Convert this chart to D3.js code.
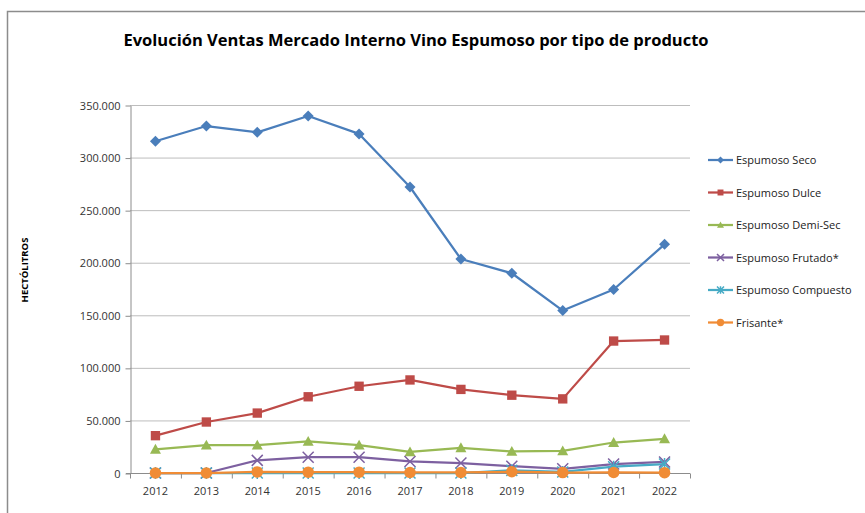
<!DOCTYPE html>
<html>
<head>
<meta charset="utf-8">
<script src="https://cdn.jsdelivr.net/npm/d3@7"></script>
<style>
	body { margin: 0; background: #fff; font-family: "Open Sans", "Liberation Sans", sans-serif; }
</style>
</head>
<body>
<div id="chart"></div>
<script type="text/javascript">
	// data (hectolitros)
	var years = ["2012","2013","2014","2015","2016","2017","2018","2019","2020","2021","2022"];
	var seco      = [315500, 330000, 324000, 339500, 322500, 272000, 203500, 190000, 154500, 174500, 217500];
	var dulce     = [35500, 48500, 57000, 72500, 82500, 88500, 79500, 74000, 70500, 125500, 126500];
	var demiSec   = [22500, 26500, 26500, 30000, 26500, 20000, 24000, 20500, 21000, 29000, 32500];
	var frutado   = [0, 0, 12000, 15000, 15000, 11000, 9500, 6500, 4000, 8500, 10500];
	var compuesto = [0, 0, 0, 0, 0, 0, 0, 2500, 1000, 6000, 8500];
	var frisante  = [0, 0, 1000, 800, 800, 500, 500, 1200, 400, 500, 300];
	var yTicks = [0, 50000, 100000, 150000, 200000, 250000, 300000, 350000];

	var series = [
		{name: "Espumoso Seco", values: seco, color: "#4a7ebb", marker: "diamond"},
		{name: "Espumoso Dulce", values: dulce, color: "#be4b48", marker: "square"},
		{name: "Espumoso Demi-Sec", values: demiSec, color: "#98b954", marker: "triangle"},
		{name: "Espumoso Frutado*", values: frutado, color: "#7d60a0", marker: "x"},
		{name: "Espumoso Compuesto", values: compuesto, color: "#46aac5", marker: "star"},
		{name: "Frisante*", values: frisante, color: "#f08c35", marker: "circle"}
	];

	var w = 865, h = 513;
	var plotL = 130, plotR = 690, plotT = 105, plotB = 473;

	var svg = d3.select("#chart").append("svg")
		.attr("width", w)
		.attr("height", h);

	// outer frame
	svg.append("rect")
		.attr("x", 7.5).attr("y", 11.5)
		.attr("width", 880).attr("height", 520)
		.attr("fill", "none")
		.attr("stroke", "#8c8c8c")
		.attr("stroke-width", 1.5);

	svg.append("text")
		.attr("x", 416).attr("y", 46)
		.attr("text-anchor", "middle")
		.attr("font-family", "'Open Sans', sans-serif")
		.attr("font-weight", "bold")
		.attr("font-size", 16.5)
		.attr("fill", "#000")
		.text("Evolución Ventas Mercado Interno Vino Espumoso por tipo de producto");

	var x = d3.scaleBand().domain(years).range([plotL, plotR]);
	var y = d3.scaleLinear().domain([0, 350000]).range([plotB, plotT]);
	var fmt = function(d) { return d3.format(",")(d).replace(/,/g, "."); };

	// gridlines
	svg.append("g").selectAll("line")
		.data(yTicks.slice(1))
		.enter().append("line")
		.attr("x1", plotL).attr("x2", plotR)
		.attr("y1", function(d) { return y(d) + 0.5; })
		.attr("y2", function(d) { return y(d) + 0.5; })
		.attr("stroke", "#bdbdbd");

	var yAxis = svg.append("g")
		.attr("transform", "translate(" + (plotL + 0.5) + ",0.5)")
		.call(d3.axisLeft(y).tickValues(yTicks).tickSize(5).tickSizeOuter(0).tickFormat(fmt));
	yAxis.select(".domain").attr("stroke", "#8c8c8c");
	yAxis.selectAll(".tick line").attr("stroke", "#8c8c8c");
	yAxis.selectAll("text")
		.attr("x", -10)
		.attr("font-family", "'Open Sans', sans-serif")
		.attr("font-size", 11)
		.attr("fill", "#333");

	var xAxis = svg.append("g")
		.attr("transform", "translate(0," + (plotB + 0.5) + ")");
	xAxis.append("line")
		.attr("x1", plotL - 4).attr("x2", plotR)
		.attr("stroke", "#8c8c8c");
	xAxis.selectAll(".xt")
		.data(years.concat(["end"]))
		.enter().append("line")
		.attr("x1", function(d, i) { return plotL + i * x.bandwidth() + 0.5; })
		.attr("x2", function(d, i) { return plotL + i * x.bandwidth() + 0.5; })
		.attr("y1", 0).attr("y2", 5)
		.attr("stroke", "#8c8c8c");
	xAxis.selectAll("text")
		.data(years)
		.enter().append("text")
		.attr("x", function(d) { return x(d) + x.bandwidth() / 2; })
		.attr("y", 21)
		.attr("text-anchor", "middle")
		.attr("font-family", "'Open Sans', sans-serif")
		.attr("font-size", 11)
		.attr("fill", "#333")
		.text(function(d) { return d; });

	svg.append("text")
		.attr("transform", "translate(28,270) rotate(-90)")
		.attr("text-anchor", "middle")
		.attr("font-family", "'Open Sans', sans-serif")
		.attr("font-weight", "bold")
		.attr("font-size", 9.5)
		.attr("fill", "#000")
		.text("HECTÓLITROS");

	function drawMarker(g, type, color, size) {
		var s = size;
		if (type == "diamond") {
			g.append("path").attr("d", "M0," + (-s) + "L" + s + ",0L0," + s + "L" + (-s) + ",0Z").attr("fill", color);
		} else if (type == "square") {
			g.append("rect").attr("x", -s * 0.85).attr("y", -s * 0.85).attr("width", s * 1.7).attr("height", s * 1.7).attr("fill", color);
		} else if (type == "triangle") {
			g.append("path").attr("d", "M0," + (-s) + "L" + s + "," + (s * 0.8) + "L" + (-s) + "," + (s * 0.8) + "Z").attr("fill", color);
		} else if (type == "x") {
			g.append("path").attr("d", "M" + (-s) + "," + (-s) + "L" + s + "," + s + "M" + (-s) + "," + s + "L" + s + "," + (-s))
				.attr("stroke", color).attr("stroke-width", 1.5).attr("fill", "none");
		} else if (type == "star") {
			g.append("path").attr("d", "M" + (-s) + "," + (-s) + "L" + s + "," + s + "M" + (-s) + "," + s + "L" + s + "," + (-s) + "M0," + (-s * 1.1) + "L0," + (s * 1.1))
				.attr("stroke", color).attr("stroke-width", 1.5).attr("fill", "none");
		} else if (type == "circle") {
			g.append("circle").attr("r", s * 1.05).attr("fill", color);
		}
	}

	var line = d3.line()
		.x(function(d, i) { return x(years[i]) + x.bandwidth() / 2; })
		.y(function(d) { return y(d); });

	// series order as in the original: later series drawn on top
	series.forEach(function(s) {
		var g = svg.append("g");
		g.append("path")
			.datum(s.values)
			.attr("d", line)
			.attr("fill", "none")
			.attr("stroke", s.color)
			.attr("stroke-width", 2.25)
			.attr("stroke-linejoin", "round");
		s.values.forEach(function(v, i) {
			var m = g.append("g")
				.attr("transform", "translate(" + (x(years[i]) + x.bandwidth() / 2) + "," + y(v) + ")");
			drawMarker(m, s.marker, s.color, 5.5);
		});
	});

	// legend
	var legend = svg.append("g");
	series.forEach(function(s, i) {
		var ly = 160 + i * 32.5;
		var lg = legend.append("g").attr("transform", "translate(0," + ly + ")");
		lg.append("line")
			.attr("x1", 708).attr("x2", 733)
			.attr("stroke", s.color).attr("stroke-width", 2.25);
		var m = lg.append("g").attr("transform", "translate(720.5,0)");
		drawMarker(m, s.marker, s.color, 3.5);
		lg.append("text")
			.attr("x", 736).attr("y", 4)
			.attr("font-family", "'Open Sans', sans-serif")
			.attr("font-size", 11)
			.attr("fill", "#222")
			.text(s.name);
	});
</script>
</body>
</html>
